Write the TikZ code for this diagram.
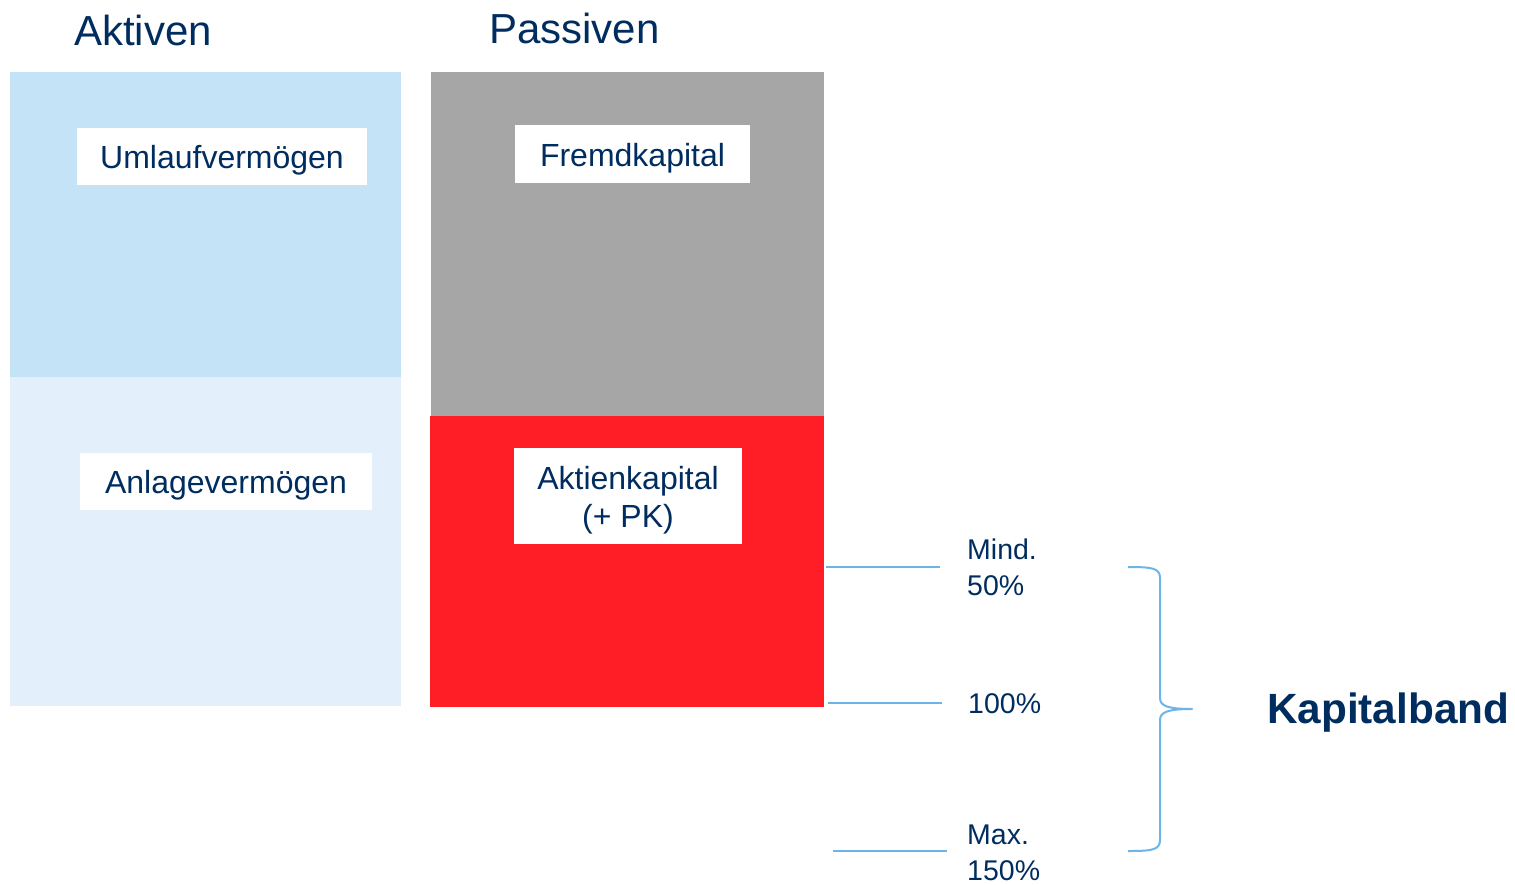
\documentclass[tikz,border=0pt]{standalone}
\usepackage{fontspec}
\setmainfont{Liberation Sans}
\definecolor{navy}{RGB}{0,45,95}
\definecolor{umlauf}{RGB}{197,227,247}
\definecolor{anlage}{RGB}{227,240,251}
\definecolor{fremd}{RGB}{166,166,166}
\definecolor{aktred}{RGB}{255,30,38}
\definecolor{lineblue}{RGB}{109,181,232}
\tikzset{
  block/.style={anchor=north west,inner sep=0pt,outer sep=0pt,draw=none},
  white box/.style={fill=white,inner sep=0pt,outer sep=0pt},
  label text/.style={inner sep=0pt,text=navy,align=center,yshift=-4pt,font=\fontsize{32}{38}\selectfont},
  title/.style={anchor=base west,inner sep=0pt,text=navy,font=\fontsize{42}{50}\selectfont},
  pct/.style={anchor=base west,inner sep=0pt,text=navy,align=left,font=\fontsize{28.5}{36}\selectfont},
  mark line/.style={draw=lineblue,line width=2pt},
}
\begin{document}
\begin{tikzpicture}[x=1pt,y=-1pt]
\useasboundingbox[fill=white] (0,0) rectangle (1515,884);
% blocks
\node[block,fill=umlauf,minimum width=391pt,minimum height=305pt] (uv) at (10,72) {};
\node[block,fill=anlage,minimum width=391pt,minimum height=329pt] (av) at (10,377) {};
\node[block,fill=fremd,minimum width=393pt,minimum height=344pt] (fk) at (431,72) {};
\node[block,fill=aktred,minimum width=394pt,minimum height=291pt] (ak) at (430,416) {};
% titles
\node[title] (aktiven) at (74,45) {Aktiven};
\node[title] (passiven) at (489,43) {Passiven};
% label boxes
\node[white box,minimum width=290pt,minimum height=57pt] (uvb) at (222,156.5) {};
\node[label text] (uvl) at (uvb.center) {Umlaufvermögen};
\node[white box,minimum width=235pt,minimum height=58pt] (fkb) at (632.5,154) {};
\node[label text] (fkl) at (fkb.center) {Fremdkapital};
\node[white box,minimum width=292pt,minimum height=57pt] (avb) at (226,481.5) {};
\node[label text] (avl) at (avb.center) {Anlagevermögen};
\node[white box,minimum width=228pt,minimum height=96pt] (akb) at (628,496) {};
\node[label text] (akl) at (akb.center) {Aktienkapital\\(+ PK)};
% percentage labels
\node[pct] (mind) at (967,595) {Mind.\\50\%};
\node[pct] (hundred) at (968,713) {100\%};
\node[pct] (max) at (967,880) {Max.\\150\%};
% marker lines
\coordinate (m1a) at (826,567); \coordinate (m1b) at (940,567);
\coordinate (m2a) at (828,703); \coordinate (m2b) at (942,703);
\coordinate (m3a) at (833,851); \coordinate (m3b) at (947,851);
\draw[mark line] (m1a) -- (m1b);
\draw[mark line] (m2a) -- (m2b);
\draw[mark line] (m3a) -- (m3b);
% brace
\coordinate (btop) at (1128,567);
\coordinate (btip) at (1192,709);
\coordinate (bbot) at (1128,851);
\draw[mark line,line join=round] (btop) .. controls (1152,567) and (1160,568) .. (1160,578)
  -- (1160,698) .. controls (1160,706) and (1168,709) .. (btip)
  .. controls (1168,709) and (1160,712) .. (1160,720)
  -- (1160,840) .. controls (1160,850) and (1152,851) .. (bbot);
% Kapitalband
\node[anchor=base west,inner sep=0pt,text=navy,font=\fontsize{42.3}{50}\selectfont\bfseries] (kb) at (1267,723) {Kapitalband};
\end{tikzpicture}
\end{document}
